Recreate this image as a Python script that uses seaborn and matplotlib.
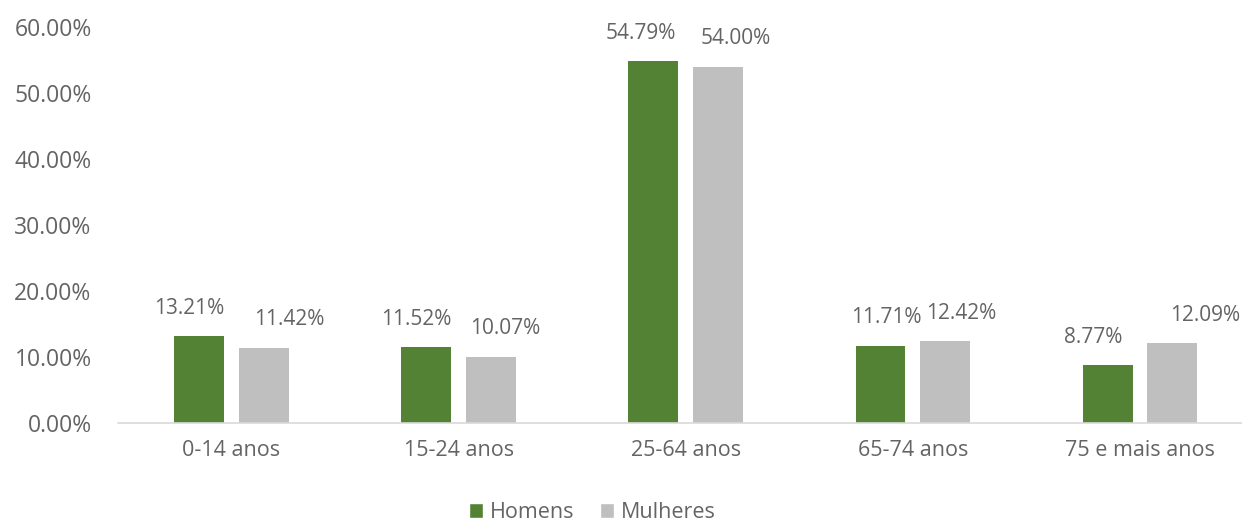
import matplotlib
matplotlib.use("Agg")
import matplotlib.pyplot as plt
import seaborn as sns
import pandas as pd
from matplotlib.patches import Patch

categories = ["0-14 anos", "15-24 anos", "25-64 anos", "65-74 anos", "75 e mais anos"]
homens = [13.21, 11.52, 54.79, 11.71, 8.77]
mulheres = [11.42, 10.07, 54.00, 12.42, 12.09]
series = ["Homens", "Mulheres"]
colors = {"Homens": "#548235", "Mulheres": "#BFBFBF"}
yticks = [0, 10, 20, 30, 40, 50, 60]
# horizontal nudges (points) of the data labels, as in the reference
label_dx = {"Homens": [-7, -7, -9, 4, -10], "Mulheres": [18, 10, 13, 12, 24]}

df = pd.DataFrame({
    "cat": categories * 2,
    "val": homens + mulheres,
    "serie": ["Homens"] * len(categories) + ["Mulheres"] * len(categories),
})

sns.set_style("white")
plt.rcParams["font.family"] = ["Open Sans", "DejaVu Sans"]
txt = "#646464"

fig = plt.figure(figsize=(12.42, 5.24), dpi=100)
ax = fig.add_axes([118 / 1242, (524 - 423) / 524, (1242 - 118) / 1242, (423 - 27) / 524])
sns.barplot(data=df, x="cat", y="val", hue="serie", palette=colors, width=0.568, gap=0.225,
            ax=ax, legend=False, saturation=1, linewidth=0)

for cont, s in zip(ax.containers, series):
    for bar, dx in zip(cont, label_dx[s]):
        h = bar.get_height()
        ax.annotate(f"{h:.2f}%", (bar.get_x() + bar.get_width() / 2, h),
                    xytext=(dx, 16), textcoords="offset points", ha="center", va="baseline",
                    fontsize=15, color=txt, annotation_clip=False)

ax.set_ylim(0, 60)
ax.set_xlim(-0.5, 4.45)
ax.set_yticks(yticks)
ax.set_yticklabels([f"{t:.2f}%" for t in yticks], fontsize=16.5, color=txt)
ax.tick_params(axis="x", labelsize=15.5, labelcolor=txt, pad=12, length=0)
ax.tick_params(axis="y", pad=19, length=0)
ax.set_xlabel("")
ax.set_ylabel("")
for s in ["top", "right", "left"]:
    ax.spines[s].set_visible(False)
ax.spines["bottom"].set_color("#D9D9D9")
ax.spines["bottom"].set_linewidth(1.2)

handles = [Patch(facecolor=colors[s], label=s) for s in series]
fig.legend(handles=handles, loc="lower center", ncol=2, frameon=False, bbox_to_anchor=(0.477, -0.035),
           fontsize=15.5, labelcolor=txt, handlelength=0.65, handleheight=0.65, handletextpad=0.3,
           columnspacing=1.2)

fig.savefig("out.png", dpi=100)
